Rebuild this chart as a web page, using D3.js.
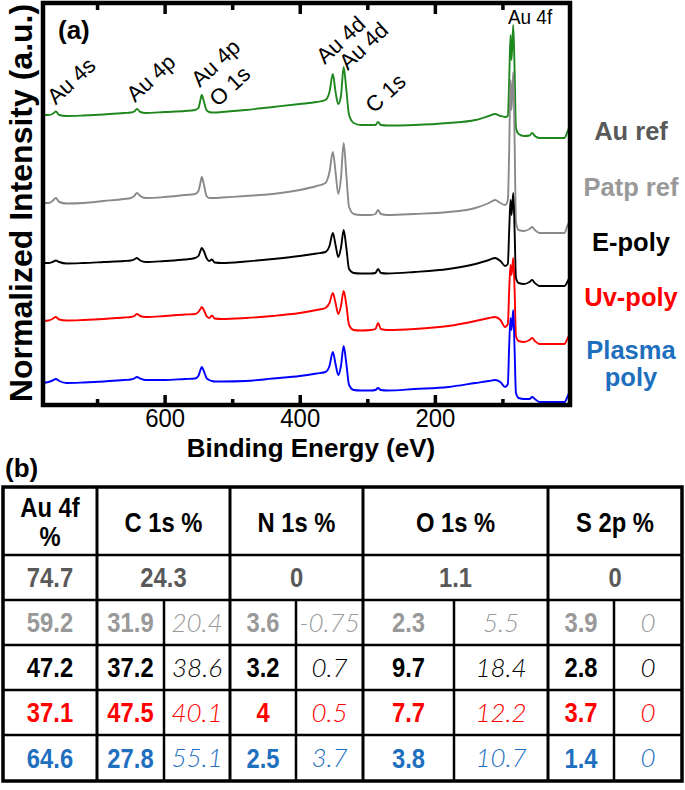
<!DOCTYPE html>
<html><head><meta charset="utf-8">
<script src="https://cdn.jsdelivr.net/npm/d3@7/dist/d3.min.js"></script>
<style>body{margin:0;background:#fff}svg{display:block}</style>
</head><body>
<svg id="c" width="685" height="790"></svg>
<script>
// ---------- DATA ----------
const energy = [780,772,766,761,756,745,720,690,660,650,645,641,636,628,600,570,555,550,547,545,542,538,534,530,526,515,480,440,400,375,362,356,351,347,343,339,335,331,327,320,310,295,288,284,280,270,230,180,140,120,111,103,96,92,90,88,86.5,84,82,80,76,68,60,56,52,45,20,8,4,1];
const auRef = [290,290,291,293.5,290,289,289.5,290.5,292,292.5,293.5,296,293,292,293,294,295,297,305,310,304,295,293,292.5,292.5,293,295,298,301,303,305,313,331,313,301,309,338,315,290,282,280,280,280,283,280,279.5,280,282,285,289,291,289,288,289,325,370,345,380,335,277,271,269,269.5,272,269,267,267,267,273,278];
const patpRef = [202,202,204,207,203,201.5,202,204,206,207,209,212,209,207,208,210,211,214,222,228,221,209,207,207,207,207.5,209,211,215,219,222,233,253,233,211,227,262,230,198,191,190,190,191,195,191,190,191,193,197,202,205,202,200,205,255,325,295,333,265,183,175,174,176,178,175,172,172,172,179,183];
const ePoly = [142,142,143,144.5,143,141.5,142,143,144,144.5,145.5,147,144.5,143,144,145.5,147,149,154,157,154,147,144,145.5,142.5,142,143.5,146,149,151.5,153,159,172,160,148,157,175,157,136,132,131.5,131.5,132,136,132,131.5,133,136,141,145,147,144,139,141,175,205,190,212,175,127,122,121,123,125,122,119,119,119,123,127];
const uvPoly = [84,84.5,86,88,85.5,84.5,85,86,87.5,88,89,91,89,88,89,90.5,91,93,96,98,95,89,87,89.5,86.5,86,87,89,92,95,97,102,112,102,91,99,114,100,80,75,74.5,75,76,82,76,75,76,79,84,87,88,85,78,81,115,140,130,147,115,69,64,63,65,67,64,61,61,61,66,70];
const plasmaPoly = [22,23,24.5,26,24,22,22.5,23.5,25,25.5,26.5,28,26.5,25,25,26,26.5,29,35,38,34,27,25,24,23.5,23.5,24,26.5,29,31.5,33,39,53,41,30,39,59,41,20,15,14.5,14.5,15,17,15,14.5,16,18,22,24,25,23,18,21,60,87,75,95,55,12,7,6,6,8,6,3,3,3,8,13];

const seriesNames = ["Au ref","Patp ref","E-poly","Uv-poly","Plasma poly"];
const seriesValues = [auRef, patpRef, ePoly, uvPoly, plasmaPoly];
const lineColors = ["#1e881e","#8a8a8a","#000000","#ff0000","#0000ff"];
const nameColors = ["#595959","#999999","#000000","#ff0000","#1f6fbf"];

const xMajorTicks = [600,400,200];
const xMinorTicks = [700,500,300,100];

const peakNames = ["Au 4s","Au 4p","Au 4p","O 1s","Au 4d","Au 4d","C 1s"];
const peakEnergies = [761,641,545,530,351,335,284];

const tableHeaders = ["Au 4f %","C 1s %","N 1s %","O 1s %","S 2p %"];
const au4f   = [74.7,59.2,47.2,37.1,64.6];
const c1sExp = [24.3,31.9,37.2,47.5,27.8];
const c1sCal = [null,20.4,38.6,40.1,55.1];
const n1sExp = [0,3.6,3.2,4,2.5];
const n1sCal = [null,-0.75,0.7,0.5,3.7];
const o1sExp = [1.1,2.3,9.7,7.7,3.8];
const o1sCal = [null,5.5,18.4,12.2,10.7];
const s2pExp = [0,3.9,2.8,3.7,1.4];
const s2pCal = [null,0,0,0,0];

// ---------- CHART ----------
const svg = d3.select("#c");
const FONT = "'Liberation Sans', Arial, Helvetica, sans-serif";
const plot = {l:43, r:570, t:3, b:405};
const x = d3.scaleLinear().domain([780,0]).range([plot.l, plot.r]);
const y = d3.scaleLinear().domain([0,402]).range([plot.b, plot.t]);

function condense(sel, k){
  sel.each(function(){
    const L = this.getComputedTextLength();
    d3.select(this).attr("textLength", L*k).attr("lengthAdjust","spacingAndGlyphs");
  });
}

const line = d3.line().x((d,i)=>x(energy[i])).y(d=>y(d)).curve(d3.curveMonotoneX);
const gLines = svg.append("g");
seriesValues.forEach((vals,k)=>{
  gLines.append("path").attr("d", line(vals)).attr("fill","none")
    .attr("stroke", lineColors[k]).attr("stroke-width",1.9).attr("stroke-linejoin","round");
});

// axes (inward ticks)
function styleAxis(g){ g.select(".domain").remove(); g.selectAll(".tick line").attr("stroke","#000").attr("stroke-width",3.5); }
svg.append("g").attr("transform",`translate(0,${plot.b})`)
  .call(d3.axisBottom(x).tickValues(xMajorTicks).tickSize(-10).tickPadding(4).tickFormat(d3.format("d")))
  .call(styleAxis)
  .call(g=>g.selectAll("text").attr("font-family",FONT).attr("font-size",26).attr("fill","#000"))
  .call(g=>condense(g.selectAll("text"),0.92));
svg.append("g").attr("transform",`translate(0,${plot.b})`)
  .call(d3.axisBottom(x).tickValues(xMinorTicks).tickSize(-6).tickFormat(""))
  .call(styleAxis);
svg.append("g").attr("transform",`translate(0,${plot.t})`)
  .call(d3.axisTop(x).tickValues(xMajorTicks).tickSize(-11).tickFormat(""))
  .call(styleAxis);
svg.append("g").attr("transform",`translate(0,${plot.t})`)
  .call(d3.axisTop(x).tickValues(xMinorTicks).tickSize(-7).tickFormat(""))
  .call(styleAxis);

svg.append("rect").attr("x",plot.l).attr("y",plot.t).attr("width",plot.r-plot.l).attr("height",plot.b-plot.t)
  .attr("fill","none").attr("stroke","#000").attr("stroke-width",4.5);

svg.append("text").attr("x",311).attr("y",457).attr("text-anchor","middle")
  .attr("font-family",FONT).attr("font-weight","bold").attr("font-size",26).text("Binding Energy (eV)");
svg.append("text").attr("transform","translate(32,203) rotate(-90)").attr("text-anchor","middle")
  .attr("font-family",FONT).attr("font-weight","bold").attr("font-size",32).text("Normalized Intensity (a.u.)");
svg.append("text").attr("x",58).attr("y",39).attr("font-family",FONT).attr("font-weight","bold")
  .attr("font-size",26).text("(a)");

// peak annotations
const peakOffsets = [[0,-6],[-2,-6],[-2,-7],[6,-5],[-8,-9],[4,4],[-4,-8]];
peakNames.forEach((n,i)=>{
  const idx = energy.indexOf(peakEnergies[i]);
  const px = x(peakEnergies[i]) + peakOffsets[i][0];
  const py = y(auRef[idx]) + peakOffsets[i][1];
  svg.append("text").attr("transform",`translate(${px},${py}) rotate(-43)`)
    .attr("font-family",FONT).attr("font-size",22).attr("fill","#000").text(n);
});
svg.append("text").attr("x",508).attr("y",24).attr("font-family",FONT).attr("font-size",21).text("Au 4f")
  .call(s=>condense(s,0.9));

// series names
const nameY = [140,196,251,306,359];
seriesNames.forEach((n,i)=>{
  const t = svg.append("text").attr("x",631).attr("y",nameY[i]).attr("text-anchor","middle")
    .attr("font-family",FONT).attr("font-weight","bold").attr("font-size",25.5).attr("fill",nameColors[i]);
  const parts = n === "Plasma poly" ? ["Plasma","poly"] : [n];
  parts.forEach((p,j)=> t.append("tspan").attr("x",631).attr("dy", j? 27:0).text(p));
});

// ---------- TABLE ----------
svg.append("text").attr("x",5).attr("y",477).attr("font-family",FONT).attr("font-weight","bold")
  .attr("font-size",26).text("(b)");
const colX = [3,97,230,363,548,682];
const splitX = [164,296,454,614];
const rowY = [487,555,600,645,690,735,781];
const tb = svg.append("g");
const fmt = v => String(v);
function cellText(cx, cy, txt, color, italic){
  const t = tb.append("text").attr("x",cx).attr("y",cy+(italic?9:9.5)).attr("text-anchor","middle")
    .attr("font-family", italic ? "Lato, 'Open Sans', sans-serif" : FONT)
    .attr("font-weight", italic ? 300 : "bold").attr("font-style", italic ? "italic":"normal")
    .attr("font-size", italic ? 26 : 27).attr("fill", color).text(txt);
  if(!italic) condense(t, 0.88);
}
// headers
tableHeaders.forEach((h,i)=>{
  const cx = (colX[i]+colX[i+1])/2, cy = (rowY[0]+rowY[1])/2;
  if(i===0){
    cellText(cx, cy-14, "Au 4f", "#000", false);
    cellText(cx, cy+15, "%", "#000", false);
  } else cellText(cx, cy+1, h, "#000", false);
});
const expCols = [c1sExp,n1sExp,o1sExp,s2pExp];
const calCols = [c1sCal,n1sCal,o1sCal,s2pCal];
au4f.forEach((v,r)=>{
  const cy = (rowY[r+1]+rowY[r+2])/2, col = nameColors[r];
  cellText((colX[0]+colX[1])/2, cy, fmt(v), col, false);
  expCols.forEach((arr,c)=>{
    if(calCols[c][r]===null){
      cellText((colX[c+1]+colX[c+2])/2, cy, fmt(arr[r]), col, false);
    } else {
      cellText((colX[c+1]+splitX[c])/2, cy, fmt(arr[r]), col, false);
      cellText((splitX[c]+colX[c+2])/2, cy, fmt(calCols[c][r]), col, true);
    }
  });
});
// grid lines
rowY.slice(1,-1).forEach(yy=> tb.append("line").attr("x1",colX[0]).attr("x2",colX[5]).attr("y1",yy).attr("y2",yy).attr("stroke","#000").attr("stroke-width",2.5));
colX.slice(1,-1).forEach(xx=> tb.append("line").attr("x1",xx).attr("x2",xx).attr("y1",rowY[0]).attr("y2",rowY[6]).attr("stroke","#000").attr("stroke-width",3));
splitX.forEach(xx=> tb.append("line").attr("x1",xx).attr("x2",xx).attr("y1",rowY[2]).attr("y2",rowY[6]).attr("stroke","#000").attr("stroke-width",2.5));
tb.append("rect").attr("x",colX[0]).attr("y",rowY[0]).attr("width",colX[5]-colX[0]).attr("height",rowY[6]-rowY[0])
  .attr("fill","none").attr("stroke","#000").attr("stroke-width",3.5);
</script>
</body></html>
